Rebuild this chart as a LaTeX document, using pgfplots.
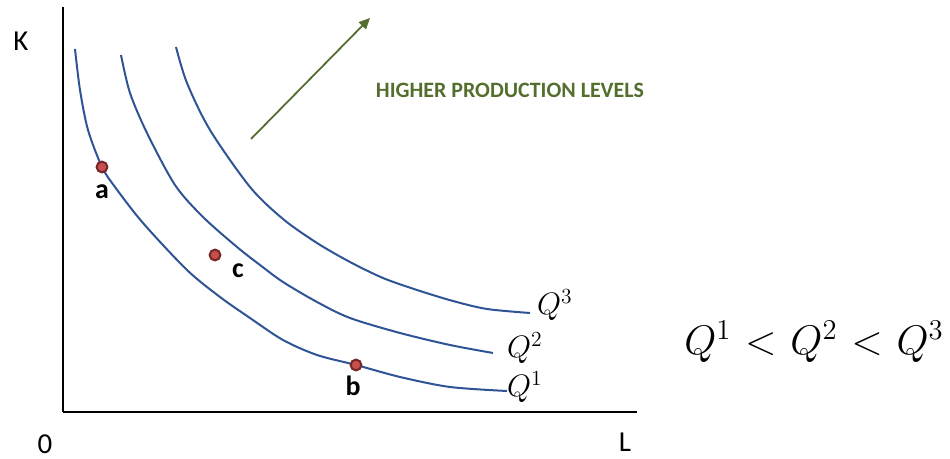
\documentclass[border=0pt]{standalone}
\usepackage{fontspec}
\setmainfont{Carlito}
\usepackage{graphicx}
\usepackage{pgfplots}
\pgfplotsset{compat=1.18}
\usetikzlibrary{arrows.meta}

\definecolor{isoblue}{RGB}{47,84,150}
\definecolor{ptfill}{RGB}{196,80,77}
\definecolor{ptedge}{RGB}{120,38,38}
\definecolor{olive}{RGB}{84,110,46}

% math set at 20pt and enlarged
\newcommand{\bigmath}[2]{\scalebox{#1}{\fontsize{20}{24}\selectfont$#2$}}

\begin{document}
\begin{tikzpicture}
\begin{axis}[
  x=1bp, y=1bp,
  scale only axis,
  xmin=63, xmax=637,
  ymin=47, ymax=452,
  axis lines=left,
  axis line style={-, line width=2.6bp, black},
  xtick=\empty, ytick=\empty,
  clip=false,
]
% isoquant Q1
\addplot[isoblue, line width=2bp, smooth] coordinates {
  (75,410) (80,369) (88,329) (102,292) (115,272) (143,236) (187,189)
  (220,162) (250,141) (283,119) (317,104) (356,94) (400,82) (450,72) (507,68)
};
% isoquant Q2
\addplot[isoblue, line width=2bp, smooth] coordinates {
  (121,404) (130,366) (147,326) (175,274) (203,242) (237,212) (260,194)
  (283,177) (317,157) (350,141) (400,126) (450,114) (493,106)
};
% isoquant Q3
\addplot[isoblue, line width=2bp, smooth] coordinates {
  (176,412) (187,376) (210,329) (250,272) (283,240) (317,216) (350,197)
  (383,181) (417,169) (453,158) (487,150) (530,146)
};
% input bundles a, c, b
\addplot[only marks, mark=*, mark size=5.4bp,
  mark options={fill=ptfill, draw=ptedge, line width=2bp}] coordinates {
  (102,292) (215,204) (356,94)
};

% direction of higher output
\draw[olive, line width=1.8bp, -{Triangle[length=11bp,width=10bp]}]
  (axis cs:251,320) -- (axis cs:370,441);
\node[olive, font=\fontsize{22}{26}\selectfont\bfseries]
  at (axis cs:510,369) {HIGHER PRODUCTION LEVELS};

% point labels
\node[font=\fontsize{28}{32}\selectfont\bfseries] at (axis cs:102,267) {a};
\node[font=\fontsize{28}{32}\selectfont\bfseries] at (axis cs:238,188) {c};
\node[font=\fontsize{28}{32}\selectfont\bfseries] at (axis cs:353,73) {b};

% isoquant labels
\node[anchor=base west, inner sep=0pt] at (axis cs:537,144) {\bigmath{1.5}{Q^3}};
\node[anchor=base west, inner sep=0pt] at (axis cs:507,101) {\bigmath{1.5}{Q^2}};
\node[anchor=base west, inner sep=0pt] at (axis cs:507,62) {\bigmath{1.5}{Q^1}};

% ordering of output levels
\node[anchor=base, inner sep=0pt] at (axis cs:814,104)
  {\bigmath{2.0}{Q^1 \mathrel{\mkern1mu<\mkern1mu} Q^2 \mathrel{\mkern1mu<\mkern1mu} Q^3}};

% axis names
\node[inner sep=0pt, font=\fontsize{29}{33}\selectfont] at (axis cs:21,418) {K};
\node[inner sep=0pt, font=\fontsize{29}{33}\selectfont] at (axis cs:45,15) {0};
\node[inner sep=0pt, font=\fontsize{29}{33}\selectfont] at (axis cs:625,17) {L};

% picture extent
\path (axis cs:0,0) (axis cs:950,459);
\end{axis}
\end{tikzpicture}
\end{document}
